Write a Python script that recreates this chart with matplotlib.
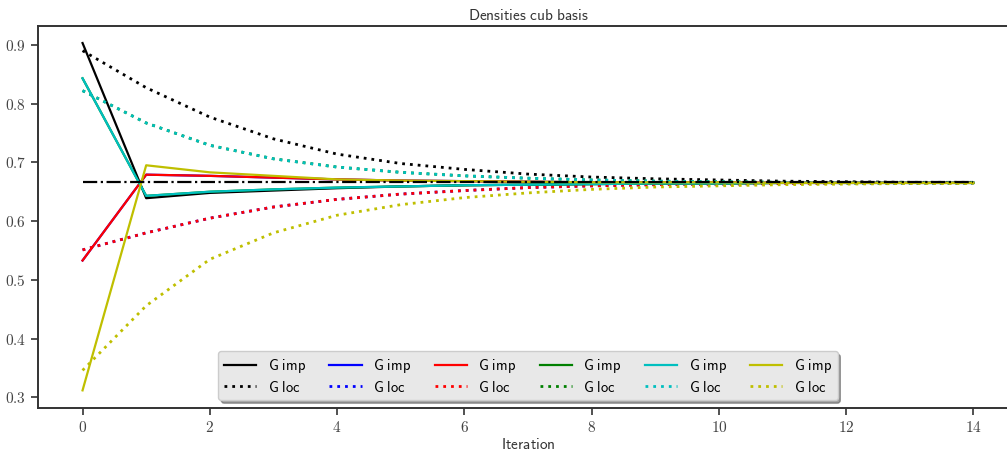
import matplotlib
matplotlib.use("Agg")
import matplotlib.pyplot as plt
from matplotlib.ticker import FuncFormatter, MultipleLocator

plt.rcParams['mathtext.fontset'] = 'cm'

iterations = list(range(15))

black_imp = [0.903, 0.639, 0.648, 0.652, 0.656, 0.659, 0.661, 0.662, 0.663, 0.664, 0.664, 0.665, 0.665, 0.665, 0.665]
black_loc = [0.890, 0.827, 0.777, 0.740, 0.714, 0.698, 0.688, 0.680, 0.675, 0.672, 0.670, 0.668, 0.667, 0.666, 0.666]
red_imp = [0.533, 0.679, 0.677, 0.674, 0.671, 0.669, 0.668, 0.667, 0.666, 0.666, 0.666, 0.665, 0.665, 0.665, 0.665]
red_loc = [0.551, 0.580, 0.605, 0.624, 0.637, 0.646, 0.652, 0.657, 0.660, 0.662, 0.663, 0.664, 0.665, 0.665, 0.665]
cyan_imp = [0.843, 0.643, 0.650, 0.654, 0.657, 0.659, 0.661, 0.662, 0.663, 0.664, 0.664, 0.665, 0.665, 0.665, 0.665]
cyan_loc = [0.822, 0.767, 0.729, 0.706, 0.692, 0.683, 0.677, 0.673, 0.670, 0.668, 0.667, 0.666, 0.665, 0.665, 0.665]
yellow_imp = [0.312, 0.695, 0.683, 0.677, 0.671, 0.669, 0.668, 0.667, 0.666, 0.666, 0.666, 0.665, 0.665, 0.665, 0.665]
yellow_loc = [0.346, 0.456, 0.535, 0.580, 0.610, 0.628, 0.640, 0.648, 0.654, 0.658, 0.660, 0.662, 0.663, 0.664, 0.664]
# blue and green are hidden under red and cyan
blue_imp, blue_loc = red_imp, red_loc
green_imp, green_loc = cyan_imp, cyan_loc

target = 2.0 / 3.0

series = [
    ('k', black_imp, black_loc),
    ('b', blue_imp, blue_loc),
    ('r', red_imp, red_loc),
    ('g', green_imp, green_loc),
    ('c', cyan_imp, cyan_loc),
    ('y', yellow_imp, yellow_loc),
]
colors = {'k': 'black', 'b': 'blue', 'r': 'red', 'g': 'green',
          'c': (0.0, 0.75, 0.75), 'y': (0.75, 0.75, 0.0)}

fig = plt.figure(figsize=(10.07, 4.55), dpi=100)
ax = fig.add_axes([38 / 1007, (455 - 407.7) / 455, 980 / 1007, (407.7 - 26) / 455])

for key, imp, loc in series:
    c = colors[key]
    ax.plot(iterations, imp, color=c, lw=1.6, ls='-', label=r'$\mathsf{G\ imp}$')
    ax.plot(iterations, loc, color=c, lw=2.0, ls=(0, (1, 1.8)), label=r'$\mathsf{G\ loc}$')

ax.plot([iterations[0], iterations[-1]], [target, target], color='black', lw=1.6, ls='-.')

ax.set_xlim(-0.7, 14.7)
ax.set_ylim(0.2825, 0.932)
ax.xaxis.set_major_locator(MultipleLocator(2))
ax.yaxis.set_major_locator(MultipleLocator(0.1))
ax.xaxis.set_major_formatter(FuncFormatter(lambda v, p: r'$%d$' % round(v)))
ax.yaxis.set_major_formatter(FuncFormatter(lambda v, p: r'$%.1f$' % v))
ax.tick_params(axis='both', direction='out', length=5, width=1.2, labelsize=11,
               labelcolor='#444444', color='#333333', top=False, right=False)
for s in ax.spines.values():
    s.set_linewidth(1.4)
    s.set_color('#333333')

ax.set_title(r'$\mathsf{Densities\ cub\ basis}$', fontsize=11, color='#333333', pad=4)
ax.set_xlabel(r'$\mathsf{Iteration}$', fontsize=11, color='#333333', labelpad=2)

leg = ax.legend(ncol=6, loc='lower center', bbox_to_anchor=(0.5, 0.0),
                fontsize=10.5, shadow=True, fancybox=True, frameon=True,
                handlelength=2.2, columnspacing=1.6, borderaxespad=0.5,
                labelspacing=0.3)
leg.get_frame().set_facecolor('#e8e8e8')
leg.get_frame().set_edgecolor('#cccccc')
leg.get_frame().set_alpha(1.0)

fig.savefig('out.png', dpi=100)
